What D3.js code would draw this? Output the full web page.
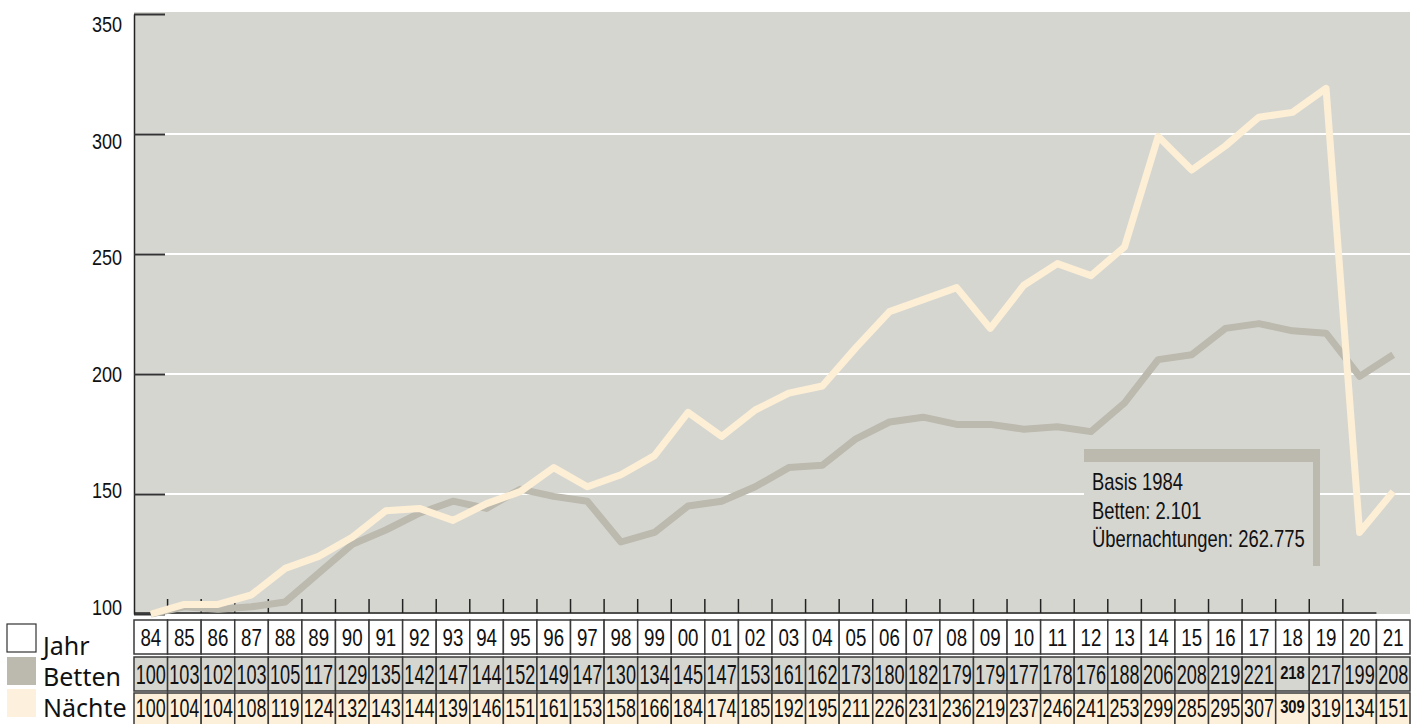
<!DOCTYPE html>
<html lang="de">
<head>
    <meta charset="UTF-8">
    <title>Betten und Übernachtungen 1984-2021</title>
    <style>
        body { margin: 0; background: #fff; }
        svg { display: block; }
        .narrow { font-family: "Liberation Sans", Arial, sans-serif; fill: #111; }
        .legend { font-family: "Noto Sans", "Open Sans", sans-serif; fill: #111; }
    </style>
</head>
<body>
    <div id="chart"></div>

    <script src="https://d3js.org/d3.v7.min.js"></script>
    <script>
        // Data
        const years = ["84","85","86","87","88","89","90","91","92","93","94","95","96","97","98","99",
                       "00","01","02","03","04","05","06","07","08","09","10","11","12","13","14","15",
                       "16","17","18","19","20","21"];
        const betten = [100,103,102,103,105,117,129,135,142,147,144,152,149,147,130,134,
                        145,147,153,161,162,173,180,182,179,179,177,178,176,188,206,208,
                        219,221,218,217,199,208];
        const naechte = [100,104,104,108,119,124,132,143,144,139,146,151,161,153,158,166,
                         184,174,185,192,195,211,226,231,236,219,237,246,241,253,299,285,
                         295,307,309,319,134,151];
        const yTicks = [100, 150, 200, 250, 300, 350];
        const gridValues = [150, 200, 250, 300];
        const boldYears = ["18"];
        const legendItems = ["Jahr", "Betten", "Nächte"];
        const noteLines = ["Basis 1984", "Betten: 2.101", "Übernachtungen: 262.775"];

        const W = 1420, H = 724;
        const plotL = 134, plotR = 1410, plotT = 14, plotB = 614;
        const bg = "#d6d6d1";
        const cBetten = "#bcb9ae";
        const cNaechte = "#fdefd6";

        const svg = d3.select("#chart").append("svg")
            .attr("width", W).attr("height", H);

        // condensed look: squeeze the glyphs horizontally
        const squeeze = (x, yy, sx) => `translate(${x},${yy}) scale(${sx},1)`;

        // Scales
        const xBand = d3.scaleBand().domain(years).range([plotL, plotR]).padding(0);
        const xc = d => xBand(d) + xBand.bandwidth() / 2;
        const y = d3.scaleLinear().domain([100, 350]).range([plotB, plotT]);
        const yLabel = d3.scaleLinear().domain([100, 350]).range([607, 24]);

        // Plot background
        svg.append("rect")
            .attr("x", plotL).attr("y", 12)
            .attr("width", plotR - plotL).attr("height", plotB - 12)
            .attr("fill", bg);

        // White gridlines
        svg.selectAll(".grid").data(gridValues).enter().append("line")
            .attr("class", "grid")
            .attr("x1", plotL).attr("x2", plotR)
            .attr("y1", d => y(d)).attr("y2", d => y(d))
            .attr("stroke", "#fff").attr("stroke-width", 2);

        // Y axis (ticks pointing inward)
        const yAxis = svg.append("g")
            .attr("transform", `translate(${plotL},0)`)
            .call(d3.axisRight(y).tickValues(yTicks).tickSize(31).tickSizeOuter(0).tickFormat(""));
        yAxis.select(".domain").attr("stroke", "#222").attr("stroke-width", 1.5);
        yAxis.selectAll(".tick line").attr("stroke", "#333").attr("stroke-width", 2);

        svg.selectAll(".ylab").data(yTicks).enter().append("text")
            .attr("class", "narrow ylab")
            .attr("transform", d => squeeze(122, yLabel(d), 0.82))
            .attr("dy", "0.36em")
            .attr("text-anchor", "end")
            .attr("font-size", 22)
            .text(d => d);

        // X baseline with ticks pointing up at column boundaries
        const xBounds = years.slice(1, years.length - 1);
        svg.append("line")
            .attr("x1", plotL).attr("x2", xBand(years[years.length - 1]))
            .attr("y1", plotB - 1).attr("y2", plotB - 1)
            .attr("stroke", "#222").attr("stroke-width", 1.5);
        svg.selectAll(".xtick").data(xBounds).enter().append("line")
            .attr("x1", d => xBand(d)).attr("x2", d => xBand(d))
            .attr("y1", plotB - 15).attr("y2", plotB - 1)
            .attr("stroke", "#222").attr("stroke-width", 1.5);

        // Annotation box
        const note = svg.append("g");
        note.append("rect")
            .attr("x", 1084).attr("y", 449).attr("width", 236).attr("height", 117)
            .attr("fill", bg);
        note.append("rect")
            .attr("x", 1084).attr("y", 449).attr("width", 236).attr("height", 13)
            .attr("fill", cBetten);
        note.append("rect")
            .attr("x", 1313).attr("y", 449).attr("width", 7).attr("height", 117)
            .attr("fill", cBetten);
        note.selectAll("text").data(noteLines).enter().append("text")
            .attr("class", "narrow")
            .attr("transform", (d, i) => squeeze(1092, 490 + i * 28.5, 0.8))
            .attr("font-size", 23)
            .text(d => d);

        // Lines
        const line = d3.line().x((d, i) => xc(years[i])).y(d => y(d));
        svg.append("path").datum(betten)
            .attr("d", line)
            .attr("fill", "none").attr("stroke", cBetten)
            .attr("stroke-width", 7).attr("stroke-linejoin", "round");
        svg.append("path").datum(naechte)
            .attr("d", line)
            .attr("fill", "none").attr("stroke", cNaechte)
            .attr("stroke-width", 7).attr("stroke-linejoin", "round");

        // Table
        const rows = [
            { key: "Jahr", values: years, fill: "#fff", y0: 620, h: 34, ty: 637, size: 24, sx: 0.78 },
            { key: "Betten", values: betten, fill: "#d6d6d1", y0: 657, h: 34, ty: 674, size: 27, sx: 0.67 },
            { key: "Nächte", values: naechte, fill: "#fdf0da", y0: 693, h: 34, ty: 708, size: 26, sx: 0.69 }
        ];
        rows.forEach(r => {
            const g = svg.append("g");
            g.selectAll("rect").data(r.values).enter().append("rect")
                .attr("x", (d, i) => xBand(years[i]))
                .attr("y", r.y0)
                .attr("width", xBand.bandwidth())
                .attr("height", r.h)
                .attr("fill", r.fill)
                .attr("stroke", "#3a3a3a").attr("stroke-width", 1.5);
            g.selectAll("text").data(r.values).enter().append("text")
                .attr("class", "narrow")
                .attr("transform", (d, i) => {
                    const bold = r.key !== "Jahr" && boldYears.includes(years[i]);
                    return squeeze(xc(years[i]), r.ty + (bold ? -2 : 0), bold ? 0.78 : r.sx);
                })
                .attr("dy", "0.36em")
                .attr("text-anchor", "middle")
                .attr("font-size", (d, i) => r.key !== "Jahr" && boldYears.includes(years[i]) ? 19 : r.size)
                .attr("font-weight", (d, i) => r.key !== "Jahr" && boldYears.includes(years[i]) ? "bold" : "normal")
                .text(d => d);
        });

        // Legend
        const legendFills = ["#fff", cBetten, "#fdf1dd"];
        const legendTop = [624, 657, 689];
        svg.selectAll(".lg-box").data(legendItems).enter().append("rect")
            .attr("x", 7).attr("y", (d, i) => legendTop[i])
            .attr("width", 29).attr("height", 28)
            .attr("fill", (d, i) => legendFills[i])
            .attr("stroke", (d, i) => i === 0 ? "#333" : "none")
            .attr("stroke-width", 1.2);
        svg.selectAll(".lg-text").data(legendItems).enter().append("text")
            .attr("class", "legend")
            .attr("x", 43).attr("y", (d, i) => [655, 686, 717][i])
            .attr("font-size", 25)
            .text(d => d);
    </script>
</body>
</html>
